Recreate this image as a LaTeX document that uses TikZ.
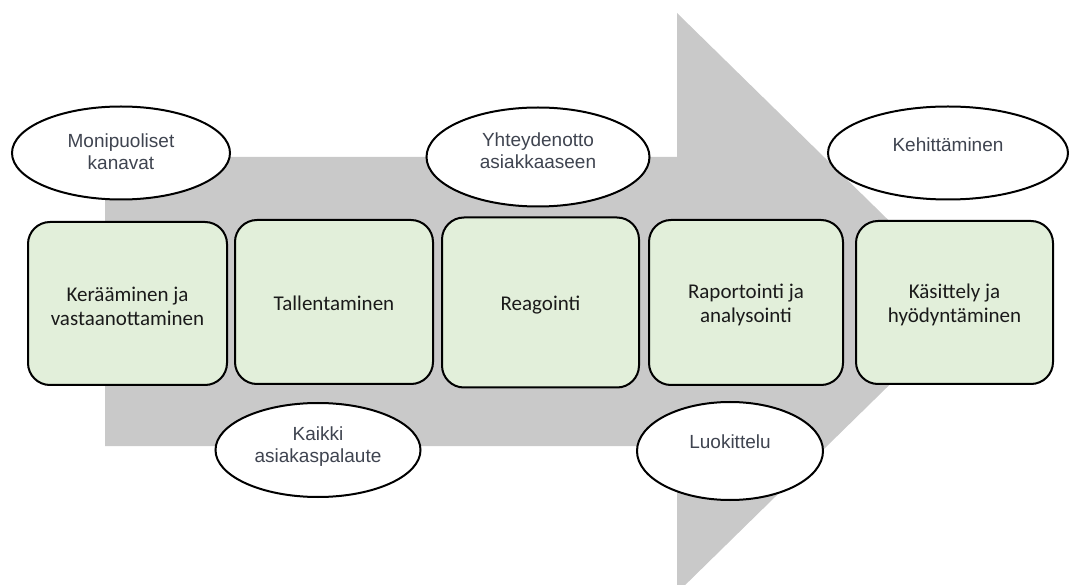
\documentclass[tikz,border=0pt]{standalone}
\usepackage{fontspec}
\setmainfont{Carlito}
\newfontfamily\ovalfont{Liberation Sans}
\usetikzlibrary{shapes.geometric}
\definecolor{flowgray}{HTML}{C9C9C9}
\definecolor{stepgreen}{HTML}{E2EFDA}
\definecolor{ovaltext}{HTML}{3F4450}
\definecolor{steptext}{HTML}{1A1A1A}
\tikzset{
  stepbox/.style={draw=black, line width=2pt, fill=stepgreen, rounded corners=22pt, inner sep=0pt},
  steplabel/.style={align=center, text=steptext, inner sep=0pt,
    font=\fontsize{21}{24}\selectfont},
  oval/.style={draw=black, line width=2pt, fill=white, ellipse, inner sep=0pt},
  ovallabel/.style={align=center, text=ovaltext, inner sep=0pt,
    font=\ovalfont\fontsize{19}{22}\selectfont}
}
\begin{document}
\begin{tikzpicture}[x=1pt,y=-1pt]
\useasboundingbox (0,0) rectangle (1069,585);
\clip (0,0) rectangle (1069,585);

% large process arrow in the background
\fill[flowgray] (105,157) -- (677,157) -- (677,13) -- (973,303)
  -- (677,593) -- (677,446) -- (105,446) -- cycle;

% process steps
\node[stepbox, minimum width=199pt, minimum height=163pt] (s1) at (127.5,303.5) {};
\node[stepbox, minimum width=198pt, minimum height=164pt] (s2) at (334,302) {};
\node[stepbox, minimum width=197pt, minimum height=170pt] (s3) at (540.5,302.5) {};
\node[stepbox, minimum width=194pt, minimum height=165pt] (s4) at (746,302.5) {};
\node[stepbox, minimum width=197pt, minimum height=163pt] (s5) at (954.5,302.5) {};

\node[steplabel] (l1) at ([yshift=-3pt]s1.center) {Kerääminen ja\\vastaanottaminen};
\node[steplabel] (l2) at ([yshift=-1pt]s2.center) {Tallentaminen};
\node[steplabel] (l3) at ([yshift=-3pt]s3.center) {Reagointi};
\node[steplabel] (l4) at ([yshift=-2pt]s4.center) {Raportointi ja\\analysointi};
\node[steplabel] (l5) at ([yshift=-2pt]s5.center) {Käsittely ja\\hyödyntäminen};

% ovals with the supporting activities
\node[oval, minimum width=218pt, minimum height=93pt] (o1) at (121,153) {};
\node[ovallabel] (t1) at (121,152) {Monipuoliset\\kanavat};

\node[oval, minimum width=205pt, minimum height=94pt] (o2) at (318,450) {};
\node[ovallabel] (t2) at (318,447) {Kaikki\\asiakaspalaute};

\node[oval, minimum width=223pt, minimum height=99pt] (o3) at (538,157) {};
\node[ovallabel] (t3) at (538,151) {Yhteydenotto\\asiakkaaseen};

\node[oval, minimum width=240pt, minimum height=93pt] (o4) at (948,153) {};
\node[ovallabel] (t4) at (948,145) {Kehittäminen};

\node[oval, minimum width=186pt, minimum height=98pt] (o5) at (730,451) {};
\node[ovallabel] (t5) at (730,442) {Luokittelu};
\end{tikzpicture}
\end{document}
